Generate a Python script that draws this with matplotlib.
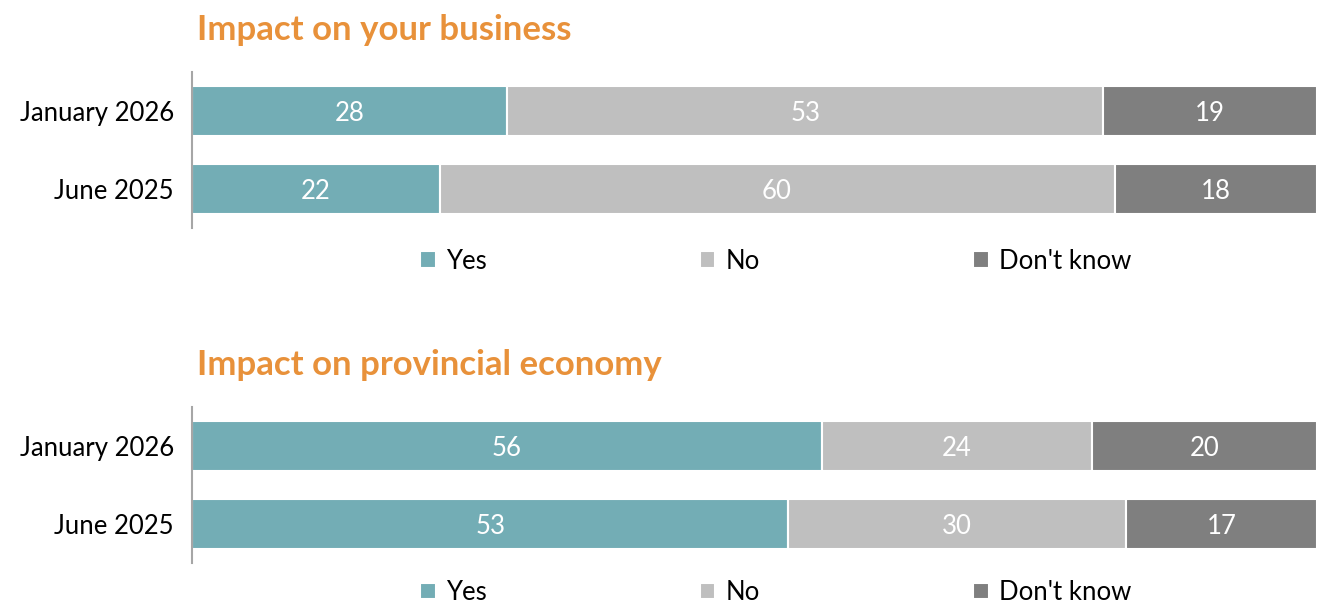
import matplotlib.pyplot as plt

plt.rcParams['font.family'] = ['Lato', 'DejaVu Sans']

# data
periods = ['January 2026', 'June 2025']
answers = ['Yes', 'No', "Don't know"]
business_vals = [[28, 53, 19], [22, 60, 18]]
economy_vals = [[56, 24, 20], [53, 30, 17]]
titles = ['Impact on your business', 'Impact on provincial economy']

colors = ['#73ADB5', '#BFBFBF', '#7F7F7F']
title_color = '#E8913A'

fig = plt.figure(figsize=(13.17, 6.06), dpi=100)

# axes placement (figure fractions)
boxes = [[0.1458, 0.6238, 0.8542, 0.2574],
         [0.1458, 0.0710, 0.8542, 0.2574]]
title_y = [0.950, 0.397]
legend_y = [0.569, 0.022]

for k, vals in enumerate([business_vals, economy_vals]):
    ax = fig.add_axes(boxes[k])
    for i, row in enumerate(vals):
        left = 0
        for j, v in enumerate(row):
            ax.barh(i, v, left=left, height=0.64, color=colors[j],
                    edgecolor='white', linewidth=1.5,
                    label=answers[j] if i == 0 else None)
            ax.text(left + v / 2, i, str(v), ha='center', va='center_baseline',
                    color='white', fontsize=18.5)
            left += v
    ax.set_xlim(0, 100)
    ax.set_ylim(1.5, -0.5)
    ax.set_yticks(range(len(periods)))
    ax.set_yticklabels(periods, fontsize=18.5, va='center_baseline')
    ax.tick_params(axis='y', length=0, pad=13)
    ax.set_xticks([])
    for s in ['top', 'right', 'bottom']:
        ax.spines[s].set_visible(False)
    ax.spines['left'].set_color('#A6A6A6')
    ax.spines['left'].set_linewidth(1.5)

    fig.text(0.1495, title_y[k], titles[k], color=title_color,
             fontsize=25, fontweight='bold', va='center')

    fig.legend(*ax.get_legend_handles_labels(), loc='center',
               bbox_to_anchor=(0.589, legend_y[k]), ncol=3, frameon=False,
               fontsize=18.5, handlelength=0.6, handleheight=0.6,
               handletextpad=0.4, columnspacing=8.3)

fig.savefig('out.png', dpi=100)
